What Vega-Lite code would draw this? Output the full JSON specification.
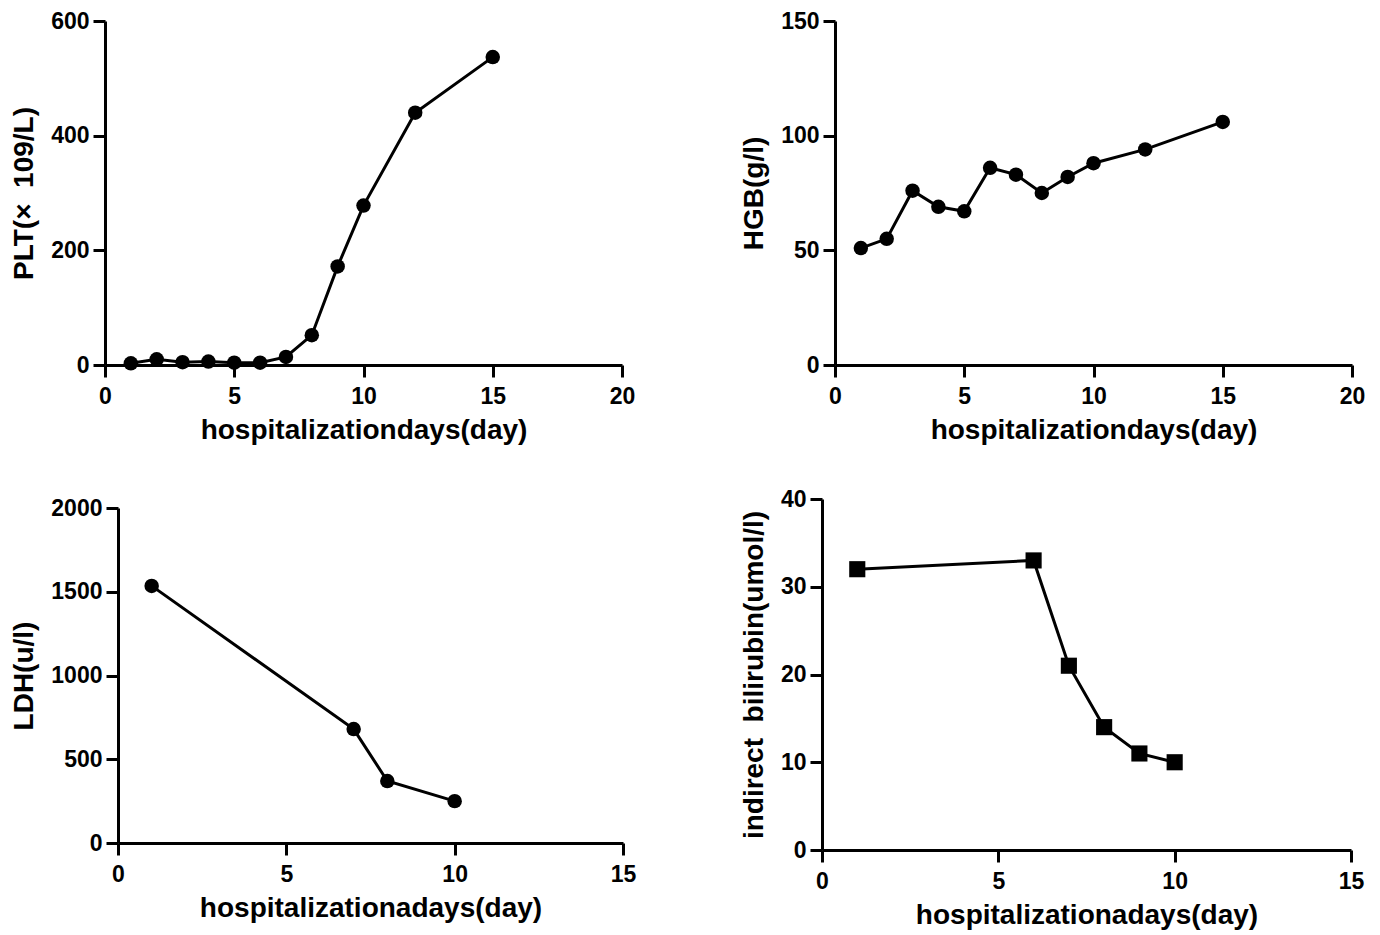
{
  "$schema": "https://vega.github.io/schema/vega-lite/v6.json",
  "background": "white",
  "padding": {"left": 9, "top": 10, "right": 10, "bottom": 5},
  "config": {
    "view": {"stroke": null},
    "font": "Liberation Sans",
    "axis": {
      "grid": false,
      "domainColor": "black",
      "domainWidth": 3,
      "tickColor": "black",
      "tickWidth": 3,
      "tickSize": 12,
      "labelFont": "Liberation Sans",
      "labelFontWeight": "bold",
      "labelFontSize": 23,
      "labelColor": "black",
      "labelFlush": false,
      "labelOverlap": false,
      "format": "d",
      "titleFont": "Liberation Sans",
      "titleFontWeight": "bold",
      "titleFontSize": 28,
      "titleColor": "black"
    },
    "axisX": {"labelPadding": 8, "titlePadding": 8},
    "axisY": {"labelPadding": 4, "titlePadding": 12}
  },
  "datasets": {
    "plt": [
      {"day": 1, "value": 3}, {"day": 2, "value": 10}, {"day": 3, "value": 5},
      {"day": 4, "value": 6}, {"day": 5, "value": 4}, {"day": 6, "value": 4},
      {"day": 7, "value": 14}, {"day": 8, "value": 52}, {"day": 9, "value": 172},
      {"day": 10, "value": 278}, {"day": 12, "value": 440}, {"day": 15, "value": 537}
    ],
    "hgb": [
      {"day": 1, "value": 51}, {"day": 2, "value": 55}, {"day": 3, "value": 76},
      {"day": 4, "value": 69}, {"day": 5, "value": 67}, {"day": 6, "value": 86},
      {"day": 7, "value": 83}, {"day": 8, "value": 75}, {"day": 9, "value": 82},
      {"day": 10, "value": 88}, {"day": 12, "value": 94}, {"day": 15, "value": 106}
    ],
    "ldh": [
      {"day": 1, "value": 1535}, {"day": 7, "value": 680},
      {"day": 8, "value": 370}, {"day": 10, "value": 250}
    ],
    "bil": [
      {"day": 1, "value": 32}, {"day": 6, "value": 33}, {"day": 7, "value": 21},
      {"day": 8, "value": 14}, {"day": 9, "value": 11}, {"day": 10, "value": 10}
    ],
    "blank": [{"k": 0}]
  },
  "spacing": 103,
  "hconcat": [
    {
      "spacing": 53,
      "vconcat": [
        {
          "spacing": 0,
          "hconcat": [
            {"width": 1, "height": 1, "data": {"name": "blank"}, "mark": {"type": "point", "size": 0, "opacity": 0}, "encoding": {}},
            {
              "width": 517, "height": 344,
              "data": {"name": "plt"},
              "mark": {"type": "line", "color": "black", "strokeWidth": 3, "point": {"filled": true, "color": "black", "size": 210, "opacity": 1}},
              "encoding": {
                "x": {"field": "day", "type": "quantitative", "scale": {"domain": [0, 20], "nice": false}, "axis": {"values": [0, 5, 10, 15, 20], "title": "hospitalizationdays(day)"}},
                "y": {"field": "value", "type": "quantitative", "scale": {"domain": [0, 600], "nice": false}, "axis": {"values": [0, 200, 400, 600], "title": "PLT(×\u00a0\u00a0109/L)"}}
              }
            }
          ]
        },
        {
          "spacing": 0,
          "hconcat": [
            {"width": 1, "height": 1, "data": {"name": "blank"}, "mark": {"type": "point", "size": 0, "opacity": 0}, "encoding": {}},
            {
              "width": 505, "height": 335,
              "data": {"name": "ldh"},
              "mark": {"type": "line", "color": "black", "strokeWidth": 3, "point": {"filled": true, "color": "black", "size": 210, "opacity": 1}},
              "encoding": {
                "x": {"field": "day", "type": "quantitative", "scale": {"domain": [0, 15], "nice": false}, "axis": {"values": [0, 5, 10, 15], "title": "hospitalizationadays(day)"}},
                "y": {"field": "value", "type": "quantitative", "scale": {"domain": [0, 2000], "nice": false}, "axis": {"values": [0, 500, 1000, 1500, 2000], "title": "LDH(u/l)"}}
              }
            }
          ]
        }
      ]
    },
    {
      "spacing": 44,
      "vconcat": [
        {
          "spacing": 0,
          "hconcat": [
            {"width": 1, "height": 1, "data": {"name": "blank"}, "mark": {"type": "point", "size": 0, "opacity": 0}, "encoding": {}},
            {
              "width": 517, "height": 344,
              "data": {"name": "hgb"},
              "mark": {"type": "line", "color": "black", "strokeWidth": 3, "point": {"filled": true, "color": "black", "size": 210, "opacity": 1}},
              "encoding": {
                "x": {"field": "day", "type": "quantitative", "scale": {"domain": [0, 20], "nice": false}, "axis": {"values": [0, 5, 10, 15, 20], "title": "hospitalizationdays(day)"}},
                "y": {"field": "value", "type": "quantitative", "scale": {"domain": [0, 150], "nice": false}, "axis": {"values": [0, 50, 100, 150], "title": "HGB(g/l)"}}
              }
            }
          ]
        },
        {
          "spacing": 0,
          "hconcat": [
            {"width": 1, "height": 1, "data": {"name": "blank"}, "mark": {"type": "point", "size": 0, "opacity": 0}, "encoding": {}},
            {
              "width": 529, "height": 351,
              "data": {"name": "bil"},
              "mark": {"type": "line", "color": "black", "strokeWidth": 3, "point": {"filled": true, "color": "black", "shape": "square", "size": 260, "opacity": 1}},
              "encoding": {
                "x": {"field": "day", "type": "quantitative", "scale": {"domain": [0, 15], "nice": false}, "axis": {"values": [0, 5, 10, 15], "title": "hospitalizationadays(day)"}},
                "y": {"field": "value", "type": "quantitative", "scale": {"domain": [0, 40], "nice": false}, "axis": {"values": [0, 10, 20, 30, 40], "title": "indirect\u00a0\u00a0bilirubin(umol/l)"}}
              }
            }
          ]
        }
      ]
    }
  ]
}
